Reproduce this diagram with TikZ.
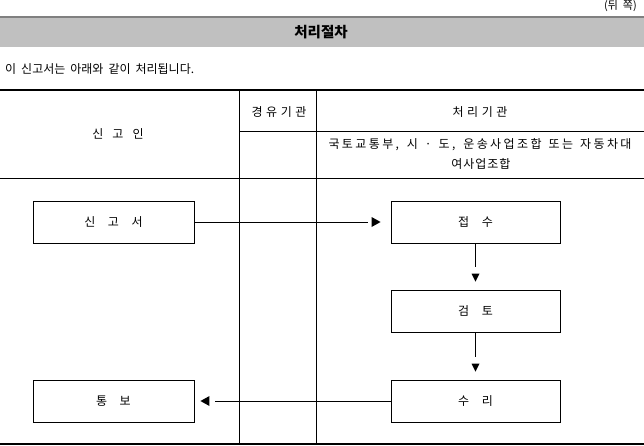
\documentclass[tikz,border=0pt]{standalone}
\usepackage{fontspec}
\setmainfont{Noto Sans CJK KR}
\usetikzlibrary{calc}
\definecolor{bandgray}{HTML}{C0C0C0}
\definecolor{banddark}{HTML}{808080}
\newcommand\wordgap[1]{\spaceskip #1\relax}
\newcommand\krA{\fontsize{12}{14}\selectfont}
\newcommand\krLS[1]{\addfontfeature{LetterSpace=#1}}
\newcommand\fitline[2]{\makebox[#1][s]{#2}}
\tikzset{
  txt/.style={inner sep=0pt, font={\krA\wordgap{5pt}}},
  spaced/.style={inner sep=0pt, font={\krA\krLS{30}\wordgap{9pt}}},
  justline/.style={inner sep=0pt, font={\krA\krLS{20}\wordgap{4pt plus 12pt}}},
  lightline/.style={inner sep=0pt, font={\krA\krLS{8}}},
  procbox/.style={draw, line width=0.9pt, inner sep=0pt, minimum height=42pt, font={\krA\wordgap{12.5pt}}},
  leftbox/.style={procbox, minimum width=161pt},
  rightbox/.style={procbox, minimum width=169pt},
  rulethin/.style={line width=0.9pt},
  rulethick/.style={line width=2.4pt},
  conn/.style={line width=0.8pt},
  head/.style={fill=black},
}
\begin{document}
\begin{tikzpicture}[x=1pt,y=-1pt]
\useasboundingbox (0,0) rectangle (644,446);
% header band
\fill[bandgray] (0,17) rectangle (644,47);
\draw[banddark, line width=2pt] (0,17) -- (644,17);
\node[txt, anchor=east, font={\fontsize{11}{13}\selectfont\wordgap{5pt}}] (back) at (637,6.5) {(뒤 쪽)};
\node[txt, font={\fontsize{14.5}{16}\selectfont\bfseries}] (title) at (321,32) {처리절차};
\node[txt, anchor=west] (intro) at (5,69) {이 신고서는 아래와 같이 처리됩니다.};
% table rules
\draw[rulethick] (0,90) -- (644,90);
\draw[rulethick] (0,444) -- (644,444);
\draw[rulethin] (0,178.5) -- (644,178.5);
\draw[rulethin] (239,131.5) -- (644,131.5);
\draw[rulethin] (239.5,90) -- (239.5,444);
\draw[rulethin] (316.5,90) -- (316.5,444);
% header texts
\node[spaced] (hA) at (118,134) {신 고 인};
\node[spaced] (hB) at (279,112) {경유기관};
\node[spaced] (hC) at (480,112) {처리기관};
\node[justline] (hD) at (480,145) {\fitline{303pt}{국토교통부, 시 · 도, 운송사업조합 또는 자동차대}};
\node[lightline] (hE) at (481,164) {여사업조합};
% process boxes
\node[leftbox] (sin) at (113.5,222) {신 고 서};
\node[leftbox] (tong) at (113.5,401) {통 보};
\node[rightbox] (jeop) at (475.5,222) {접 수};
\node[rightbox] (geom) at (475.5,311) {검 토};
\node[rightbox] (suri) at (475.5,401) {수 리};
% connectors
\draw[conn] (sin.east) -- ($(jeop.west)+(-23,0)$);
\fill[head] ($(jeop.west)+(-19,-5)$) -- ($(jeop.west)+(-10,0)$) -- ($(jeop.west)+(-19,5)$) -- cycle;
\draw[conn] (jeop.south) -- ($(geom.north)+(0,-23)$);
\fill[head] ($(geom.north)+(-4,-16)$) -- ($(geom.north)+(0,-8)$) -- ($(geom.north)+(4,-16)$) -- cycle;
\draw[conn] (geom.south) -- ($(suri.north)+(0,-23)$);
\fill[head] ($(suri.north)+(-4,-16)$) -- ($(suri.north)+(0,-8)$) -- ($(suri.north)+(4,-16)$) -- cycle;
\draw[conn] (suri.west) -- ($(tong.east)+(21,0)$);
\fill[head] ($(tong.east)+(15,-5)$) -- ($(tong.east)+(6,0)$) -- ($(tong.east)+(15,5)$) -- cycle;
\end{tikzpicture}
\end{document}
